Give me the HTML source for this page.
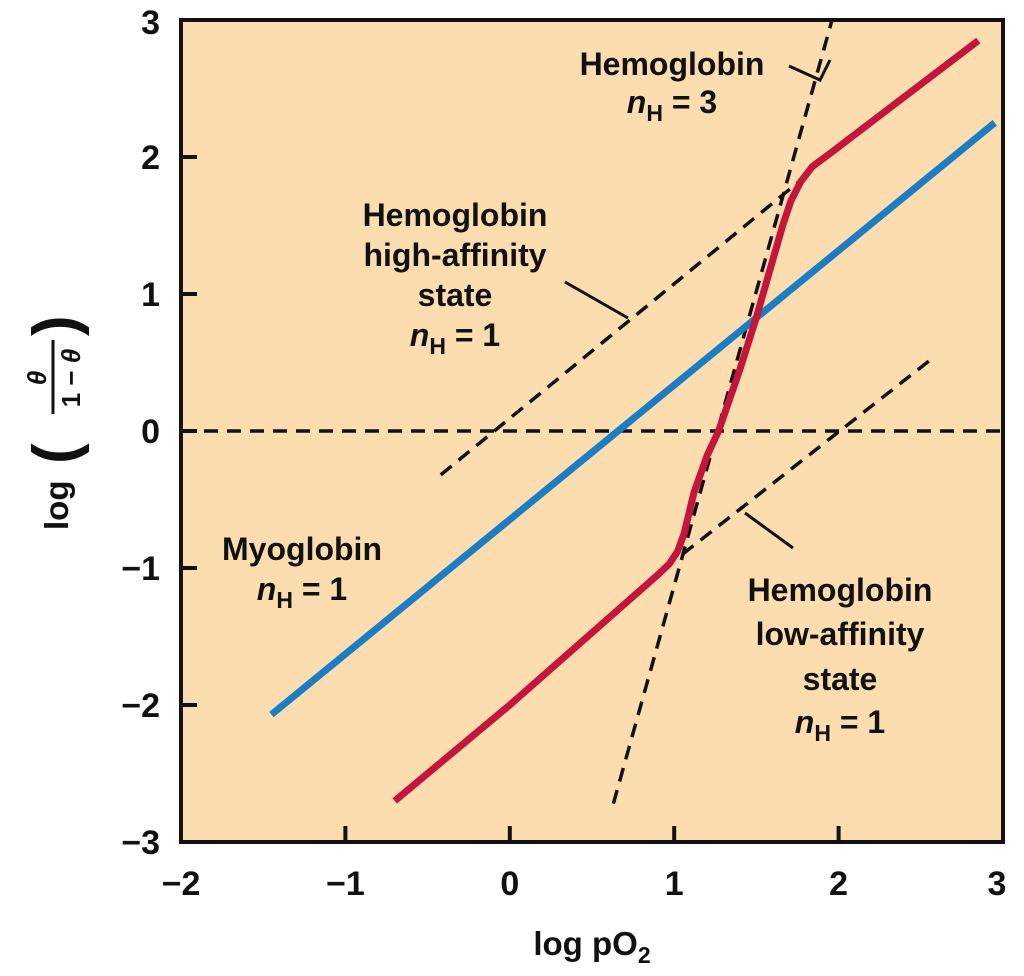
<!DOCTYPE html>
<html><head><meta charset="utf-8"><style>
body{margin:0;background:#fff}
svg text{font-family:"Liberation Sans",sans-serif;font-weight:bold;fill:#111}
</style></head><body>
<svg width="1024" height="971" viewBox="0 0 1024 971">
<rect x="181" y="20" width="822" height="822" fill="#FCDDB0" stroke="#111" stroke-width="4"/>
<g id="ticks"></g>
<g id="marks"></g>
<g>
<text x="672" y="75" text-anchor="middle" font-size="32">Hemoglobin</text>
<text x="672" y="113" text-anchor="middle" font-size="32"><tspan font-style="italic">n</tspan><tspan font-size="23" dy="8">H</tspan><tspan dy="-8"> = 3</tspan></text>
<polyline points="789,66 820,80 830,60" fill="none" stroke="#111" stroke-width="3"/>
<text x="455" y="226" text-anchor="middle" font-size="32">Hemoglobin</text>
<text x="455" y="266" text-anchor="middle" font-size="32">high-affinity</text>
<text x="455" y="306" text-anchor="middle" font-size="32">state</text>
<text x="455" y="346" text-anchor="middle" font-size="32"><tspan font-style="italic">n</tspan><tspan font-size="23" dy="8">H</tspan><tspan dy="-8"> = 1</tspan></text>
<line x1="565" y1="282" x2="628" y2="318" stroke="#111" stroke-width="3"/>
<text x="302" y="560" text-anchor="middle" font-size="32">Myoglobin</text>
<text x="302" y="600" text-anchor="middle" font-size="32"><tspan font-style="italic">n</tspan><tspan font-size="23" dy="8">H</tspan><tspan dy="-8"> = 1</tspan></text>
<text x="840" y="601" text-anchor="middle" font-size="32">Hemoglobin</text>
<text x="840" y="645" text-anchor="middle" font-size="32">low-affinity</text>
<text x="840" y="690" text-anchor="middle" font-size="32">state</text>
<text x="840" y="733" text-anchor="middle" font-size="32"><tspan font-style="italic">n</tspan><tspan font-size="23" dy="8">H</tspan><tspan dy="-8"> = 1</tspan></text>
<line x1="745" y1="513" x2="793" y2="548" stroke="#111" stroke-width="3"/>
</g>
<text x="592" y="955" text-anchor="middle" font-size="33">log pO<tspan font-size="23" dy="8">2</tspan></text>
<g transform="translate(58,500) rotate(-90)">
<text x="-30" y="10" font-size="33">log</text>
<text x="36" y="18" font-size="62">(</text>
<text x="122" y="-12" text-anchor="middle" font-size="26" font-style="italic">θ</text>
<line x1="86" y1="-5" x2="160" y2="-5" stroke="#111" stroke-width="3"/>
<text x="122" y="22" text-anchor="middle" font-size="26">1 − <tspan font-style="italic">θ</tspan></text>
<text x="164" y="18" font-size="62">)</text>
</g>
</svg>
<script>
const xTicks=[-2,-1,0,1,2,3];
const yTicks=[-3,-2,-1,0,1,2,3];
const xTickLabels=["−2","−1","0","1","2","3"];
const yTickLabels=["−3","−2","−1","0","1","2","3"];
const myoX=[-1.45,2.95];
const myoY=[-2.07,2.25];
const hbX=[-0.7,0,0.9,0.97,1.02,1.06,1.12,1.2,1.27,1.4,1.5,1.6,1.66,1.71,1.77,1.84,1.93,2.85];
const hbY=[-2.7,-2.0,-1.05,-0.97,-0.88,-0.75,-0.45,-0.18,0,0.45,0.83,1.25,1.5,1.68,1.82,1.93,2.01,2.85];
const nh3X=[0.63,1.96];
const nh3Y=[-2.72,3.0];
const highX=[-0.42,1.82];
const highY=[-0.32,1.88];
const lowX=[1.05,2.57];
const lowY=[-0.9,0.53];
const zeroX=[-2,3];
const zeroY=[0,0];
const X=v=>181+(v+2)*164.4;
const Y=v=>842-(v+3)*137;
const NS="http://www.w3.org/2000/svg";
const ticks=document.getElementById('ticks'),marks=document.getElementById('marks');
function mk(t,a,p){const e=document.createElementNS(NS,t);for(const k in a)e.setAttribute(k,a[k]);p.appendChild(e);return e;}
xTicks.forEach((v,i)=>{
 if(i>0&&i<xTicks.length-1){const l=mk('line',{x1:X(v),x2:X(v),y1:842,y2:826,stroke:'#111','stroke-width':4},ticks);
 
 }
 const t=mk('text',{x:X(v)-(i==5?6:0),y:895,'text-anchor':'middle','font-size':34},ticks);t.textContent=xTickLabels[i];
 
 
});
yTicks.forEach((v,i)=>{
 if(i>0&&i<yTicks.length-1){const l=mk('line',{x1:181,x2:197,y1:Y(v),y2:Y(v),stroke:'#111','stroke-width':4},ticks);
 
 }
 const t=mk('text',{x:160,y:Y(v)+(i==6?14:12),'text-anchor':'end','font-size':34},ticks);t.textContent=yTickLabels[i];
 
 
});
function line(xs,ys,st,name){
 const pts=xs.map((x,i)=>X(x)+','+Y(ys[i])).join(' ');
 const p=mk('polyline',Object.assign({points:pts,fill:'none'},st),marks);
 
 
}
const dash={stroke:'#111','stroke-width':3.5,'stroke-dasharray':'14,9'};
line(zeroX,zeroY,dash,'zero-line');
line(nh3X,nh3Y,dash,'hb-nh3-line');
line(highX,highY,dash,'high-affinity-line');
line(lowX,lowY,dash,'low-affinity-line');
line(myoX,myoY,{stroke:'#1B7DC4','stroke-width':7},'myoglobin-line');
line(hbX,hbY,{stroke:'#C4153A','stroke-width':7,'stroke-linejoin':'round'},'hemoglobin-curve');
</script>
</body></html>
